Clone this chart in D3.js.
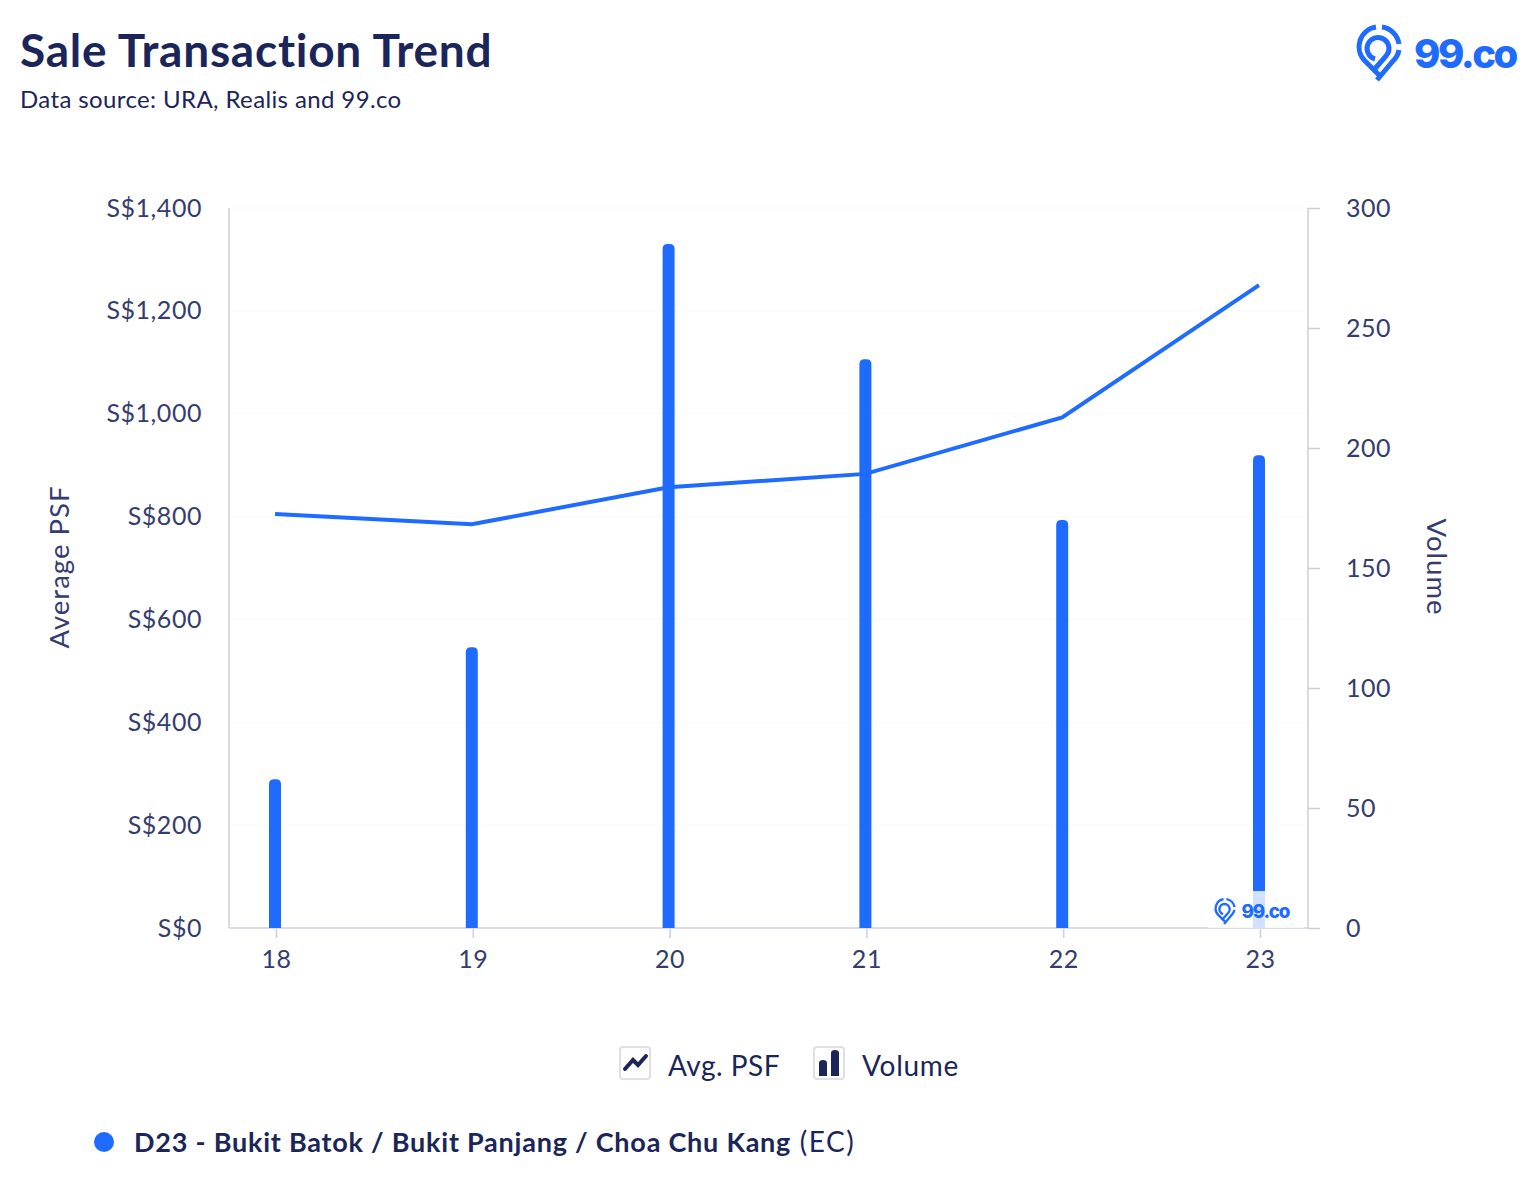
<!DOCTYPE html>
<meta charset="utf-8">
<style>
    html, body { margin: 0; background: #fff; }
    svg { display: block; }
    text { font-family: Lato, sans-serif; fill: #1b2559; font-variant-ligatures: none; }
    .axis text { font-size: 25px; fill: #353d6e; letter-spacing: 0.55px; }
    .axis path, .axis line { fill: none; stroke: #cfcfd4; stroke-width: 1.5px; }
    .axis-title { font-size: 27.5px; fill: #353d6e; letter-spacing: 1px; }
    .grid line { stroke: #fafafb; stroke-width: 1px; }
</style>

<svg id="chart" width="1527" height="1192"></svg>

<script src="https://d3js.org/d3.v7.min.js" charset="utf-8"></script>
<script>

    // year, average psf, volume
    var data = [
        {year: "18", psf: 805, volume: 62},
        {year: "19", psf: 785, volume: 117},
        {year: "20", psf: 857, volume: 285},
        {year: "21", psf: 883, volume: 237},
        {year: "22", psf: 993, volume: 170},
        {year: "23", psf: 1250, volume: 197}
    ];

    var blue = "#1f6bff";
    var navy = "#1b2559";

    var plotLeft = 229, plotRight = 1308, plotTop = 208, plotBottom = 928;

    var svg = d3.select("#chart");

    var x = d3.scalePoint().domain(data.map(d => d.year)).range([275, 1259]);
    var yPsf = d3.scaleLinear().domain([0, 1400]).range([plotBottom, plotTop]);
    var yVol = d3.scaleLinear().domain([0, 300]).range([plotBottom, plotTop]);

    // titles
    svg.append("text").attr("x", 20).attr("y", 67)
        .style("font-size", "46px").style("font-weight", 700).style("letter-spacing", "0.75px").text("Sale Transaction Trend");
    svg.append("text").attr("x", 20).attr("y", 108)
        .style("font-size", "24px").style("letter-spacing", "0.38px").text("Data source: URA, Realis and 99.co");

    // faint gridlines
    svg.append("g").attr("class", "grid")
        .selectAll("line")
        .data(yPsf.ticks(7).slice(1))
        .enter()
        .append("line")
        .attr("x1", plotLeft).attr("x2", plotRight)
        .attr("y1", d => yPsf(d)).attr("y2", d => yPsf(d));

    // axes
    var xAxis = svg.append("g").attr("class", "axis")
        .attr("transform", "translate(1," + plotBottom + ")")
        .call(d3.axisBottom(x).tickSize(10).tickPadding(12));
    xAxis.select(".domain").remove();
    svg.append("line").attr("x1", plotLeft).attr("x2", plotRight).attr("y1", plotBottom).attr("y2", plotBottom)
        .style("stroke", "#dcdce6").style("stroke-width", 2);

    var yLeft = svg.append("g").attr("class", "axis")
        .attr("transform", "translate(" + plotLeft + ",0)")
        .call(d3.axisLeft(yPsf).ticks(7).tickSize(0).tickPadding(27).tickFormat(d => "S$" + d3.format(",")(d)));

    var yRight = svg.append("g").attr("class", "axis")
        .attr("transform", "translate(" + plotRight + ",0)")
        .call(d3.axisRight(yVol).ticks(6).tickSize(12).tickPadding(26));
    yRight.select(".domain").attr("d", "M0," + plotTop + "V" + plotBottom);
    yLeft.select(".domain").attr("d", "M0," + plotTop + "V" + plotBottom);

    svg.append("text").attr("class", "axis-title")
        .attr("transform", "translate(69,567) rotate(-90)")
        .attr("text-anchor", "middle").text("Average PSF");
    svg.append("text").attr("class", "axis-title")
        .attr("transform", "translate(1427,567) rotate(90)")
        .attr("text-anchor", "middle").text("Volume");

    // bars, rounded at the top only
    var barW = 12;
    svg.selectAll(".bar")
        .data(data)
        .enter()
        .append("path")
        .attr("class", "bar")
        .attr("fill", blue)
        .attr("d", function(d) {
            var x0 = x(d.year) - barW / 2, y0 = yVol(d.volume), r = 5;
            return "M" + x0 + "," + plotBottom + "V" + (y0 + r) + "Q" + x0 + "," + y0 + " " + (x0 + r) + "," + y0 +
                "H" + (x0 + barW - r) + "Q" + (x0 + barW) + "," + y0 + " " + (x0 + barW) + "," + (y0 + r) + "V" + plotBottom + "Z";
        });

    // psf line
    var line = d3.line().x(d => x(d.year)).y(d => yPsf(d.psf));
    svg.append("path").datum(data)
        .attr("fill", "none").attr("stroke", blue).attr("stroke-width", 4)
        .attr("d", line);

    // draws the 99.co logo, pin + wordmark. s=1 is the big one in the header
    function logo(g, s) {
        var pin = g.append("g").attr("fill", "none").attr("stroke", blue)
            .attr("stroke-width", 5).attr("stroke-linejoin", "miter");
        pin.append("path").attr("d", "M-3,-20 A20,20 0 0 0 -14,14 L0,28");
        pin.append("path").attr("d", "M3,-20 A20,20 0 0 1 20,-3");
        pin.append("path").attr("d", "M20,3 A20,20 0 0 1 14,14 L-2,33");
        pin.append("path").attr("d", "M-4,12 A11,11 0 1 1 7,9 L-6,24");
        g.append("text").attr("x", 35).attr("y", 21)
            .style("font-family", "Inter, sans-serif").style("font-size", "40px").style("font-weight", 800)
            .style("letter-spacing", "-2.5px").style("fill", blue).text("99.co");
        g.attr("transform", g.attr("data-t") + " scale(" + s + ")");
    }

    logo(svg.append("g").attr("data-t", "translate(1379,47)"), 1);

    // watermark over the last bar
    svg.append("rect").attr("x", 1208).attr("y", 891).attr("width", 96).attr("height", 37).attr("fill", "#fff").attr("opacity", 0.8);
    logo(svg.append("g").attr("data-t", "translate(1225,908.5)"), 0.47);

    // legend
    var legend = svg.append("g");
    [620, 814].forEach(function(lx) {
        legend.append("rect").attr("x", lx).attr("y", 1047).attr("width", 30).attr("height", 32).attr("rx", 3)
            .attr("fill", "#fff").attr("stroke", "#dfdfe8").attr("stroke-width", 2);
    });
    legend.append("path").attr("d", "M625,1069L633,1060L638,1065L646,1056")
        .attr("fill", "none").attr("stroke", navy).attr("stroke-width", 4).attr("stroke-linecap", "round");
    legend.append("path").attr("d", "M819,1076V1063Q819,1060 823,1060Q827,1060 827,1063V1076Z M831,1076V1053Q831,1050 835,1050Q839,1050 839,1053V1076Z")
        .attr("fill", navy);
    legend.append("text").attr("x", 668).attr("y", 1076).style("font-size", "28px").style("letter-spacing", "0.5px").text("Avg. PSF");
    legend.append("text").attr("x", 862).attr("y", 1076).style("font-size", "28px").style("letter-spacing", "0.7px").text("Volume");

    // series key at the bottom
    svg.append("circle").attr("cx", 104).attr("cy", 1142).attr("r", 10).attr("fill", blue);
    var key = svg.append("text").attr("x", 134).attr("y", 1152).style("font-size", "27px").style("letter-spacing", "0.77px");
    key.append("tspan").style("font-weight", 700).text("D23 - Bukit Batok / Bukit Panjang / Choa Chu Kang");
    key.append("tspan").style("font-size", "28px").style("letter-spacing", "1.5px").text(" (EC)");

</script>
